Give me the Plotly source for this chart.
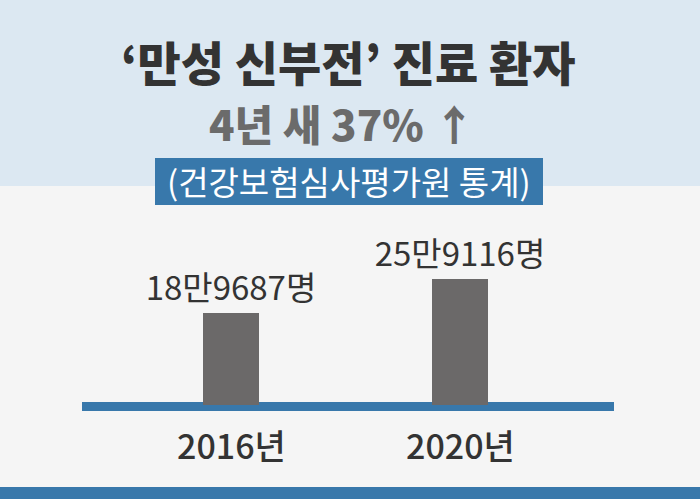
import plotly.graph_objects as go

# data
years = ['2016년', '2020년']
patients = [189687, 259116]
value_labels = ['18만9687명', '25만9116명']

title_line1 = '‘만성 신부전’ 진료 환자'
title_line2 = '4년 새 37% ↑'
source_text = '(건강보험심사평가원 통계)'

W, H = 700, 499
base_px = 405          # pixel row (from top) of the bar base
units_per_px = 189687 / 92.0
FONT = 'Noto Sans CJK KR'


def py(px):
    # pixel row from top -> paper y
    return 1 - px / H


fig = go.Figure()
fig.add_trace(go.Bar(
    x=years, y=patients,
    text=value_labels, textposition='outside', constraintext='none',
    textfont=dict(size=33, color='#333333', family=FONT),
    marker=dict(color='#6b6969', line=dict(width=0)),
    width=0.245, cliponaxis=False, hoverinfo='skip'))

# backgrounds
fig.add_shape(type='rect', xref='paper', yref='paper', x0=0, x1=1,
              y0=py(186), y1=1, fillcolor='#dce8f2', line_width=0, layer='below')
fig.add_shape(type='rect', xref='paper', yref='paper', x0=0, x1=1,
              y0=0, y1=py(487), fillcolor='#3878ab', line_width=0, layer='below')
# baseline
fig.add_shape(type='rect', xref='paper', yref='paper', x0=82 / W, x1=614 / W,
              y0=py(411), y1=py(402), fillcolor='#3878ab', line_width=0, layer='below')
# source box
fig.add_shape(type='rect', xref='paper', yref='paper', x0=155 / W, x1=543 / W,
              y0=py(205), y1=py(158), fillcolor='#3878ab', line_width=0, layer='below')

fig.add_annotation(text=title_line1, xref='paper', yref='paper',
                   x=348 / W, y=py(60), showarrow=False, xanchor='center', yanchor='middle',
                   font=dict(size=47, color='#333333', family=FONT, weight=900))
fig.add_annotation(text=title_line2, xref='paper', yref='paper',
                   x=(213 + 470) / 2 / W, y=py(122), showarrow=False, xanchor='center', yanchor='middle',
                   font=dict(size=42, color='#6b6b6b', family=FONT, weight=900))
fig.add_annotation(text=source_text, xref='paper', yref='paper',
                   x=349 / W, y=py(181), showarrow=False, xanchor='center', yanchor='middle',
                   font=dict(size=33, color='#ffffff', family=FONT))

# category labels under the baseline
for yr in years:
    fig.add_annotation(text=yr, x=yr, xref='x', yref='paper', y=py(444),
                       showarrow=False, xanchor='center', yanchor='middle',
                       font=dict(size=34, color='#333333', family=FONT, weight=500))

fig.update_layout(
    width=W, height=H,
    margin=dict(l=0, r=0, t=0, b=0, pad=0),
    paper_bgcolor='#f5f5f5', plot_bgcolor='rgba(0,0,0,0)',
    showlegend=False, bargap=0,
    font=dict(family=FONT),
)
fig.update_xaxes(range=[-231 / 229, (W - 231) / 229], showgrid=False, zeroline=False,
                 showline=False, ticks='', showticklabels=False)
fig.update_yaxes(range=[-(H - base_px) * units_per_px, base_px * units_per_px], visible=False)

# drop the browser's default page margin so the figure sits at the window's corner
fig.write_html('out.html', config={'displayModeBar': False},
               post_script="document.body.style.margin='0';")
